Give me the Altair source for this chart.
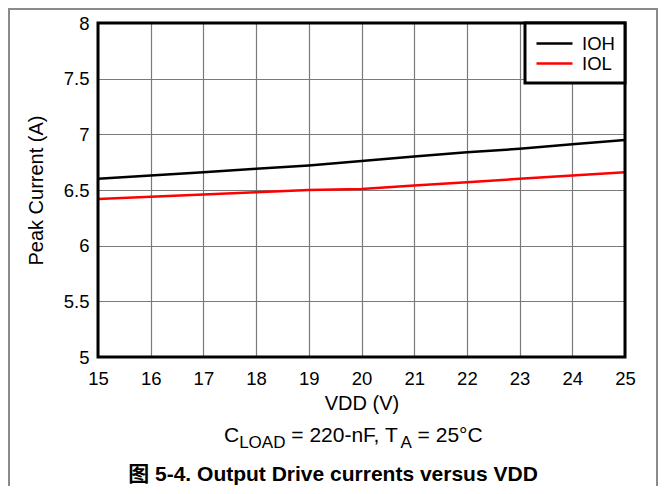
import altair as alt
import pandas as pd

vdd = [15, 16, 17, 18, 19, 20, 21, 22, 23, 24, 25]
ioh = [6.60, 6.63, 6.66, 6.69, 6.72, 6.76, 6.80, 6.84, 6.87, 6.91, 6.95]
iol = [6.42, 6.44, 6.46, 6.48, 6.50, 6.51, 6.54, 6.57, 6.60, 6.63, 6.66]
series_names = ["IOH", "IOL"]
series_colors = ["#000000", "#ff0000"]
y_ticks = [5, 5.5, 6, 6.5, 7, 7.5, 8]

rows = []
for v, a, b in zip(vdd, ioh, iol):
    rows.append({"VDD": v, "Current": a, "Series": "IOH"})
    rows.append({"VDD": v, "Current": b, "Series": "IOL"})
df = pd.DataFrame(rows)
one = pd.DataFrame({"k": [0]})

FONT = "Liberation Sans, Arial, Noto Sans CJK SC"
W, H = 527, 334

# Arial / Liberation Sans advance widths (em) for the condition line
ARIAL = {"C": .722, "L": .556, "O": .778, "A": .667, "D": .722, "=": .584, " ": .278,
         "0": .556, "2": .556, "5": .556, "-": .333, "n": .556, "F": .611, ",": .278,
         "T": .611, "°": .4}

def tw(s, size):
    return sum(ARIAL[c] for c in s) * size

border = alt.Chart(one).mark_rect(filled=False, stroke="#8a8a8a", strokeWidth=2).encode(
    x=alt.value(-89), x2=alt.value(559), y=alt.value(-14), y2=alt.value(540)
)

lines = alt.Chart(df).mark_line(strokeWidth=2.5, clip=True).encode(
    x=alt.X("VDD:Q",
            scale=alt.Scale(domain=[15, 25], nice=False, zero=False),
            axis=alt.Axis(values=vdd, format="d", title="VDD (V)", grid=True,
                          ticks=False, tickSize=0, domain=False, labelPadding=12,
                          labelFlush=False, titlePadding=6)),
    y=alt.Y("Current:Q",
            scale=alt.Scale(domain=[5, 8], nice=False, zero=False),
            axis=alt.Axis(values=y_ticks, format="~g", title="Peak Current (A)", grid=True,
                          ticks=False, tickSize=0, domain=False, labelPadding=9,
                          labelFlush=False, titlePadding=17)),
    color=alt.Color("Series:N",
                    scale=alt.Scale(domain=series_names, range=series_colors),
                    legend=alt.Legend(title=None, orient="top-right", offset=0, padding=10,
                                      strokeColor="#000000", fillColor="#ffffff",
                                      symbolType="M-2,0H2", symbolSize=324,
                                      symbolOffset=9,
                                      symbolStrokeWidth=2.5, labelFont=FONT,
                                      labelFontSize=18.5, labelOffset=17, rowPadding=-3,
                                      labelColor="#000000")),
)

frame = alt.Chart(one).mark_rect(filled=False, stroke="#000000", strokeWidth=3).encode(
    x=alt.value(0), x2=alt.value(W), y=alt.value(0), y2=alt.value(H)
)

def txt(s, x, y, size, bold=False, align="left"):
    return alt.Chart(one).mark_text(
        text=s, font=FONT, fontSize=size, fontWeight="bold" if bold else "normal",
        align=align, baseline="alphabetic", color="#000000"
    ).encode(x=alt.value(x), y=alt.value(y))

# condition line with subscripts, pieces chained by their text widths
BIG, SUB = 21, 17
pieces = [("C", BIG, 0), ("LOAD", SUB, 6), (" = 220-nF, T", BIG, 0), ("A", SUB, 6), (" = 25°C", BIG, 0)]
x0 = 224 - 98
base = 419
cond = []
cx = x0
for s, size, dy in pieces:
    shown = s.lstrip(" ")
    lead = tw(s[: len(s) - len(shown)], size)
    cond.append(txt(shown, cx + lead, base + dy, size))
    cx += tw(s, size)

caption = txt("图 5-4. Output Drive currents versus VDD", 235, 458, 21, bold=True, align="center")

chart = alt.layer(border, lines, frame, *cond, caption).properties(
    width=W, height=H,
    autosize=alt.AutoSizeParams(type="none"),
    padding={"left": 90, "top": 15, "right": 33, "bottom": 129},
).configure_view(stroke=None).configure_axis(
    labelFont=FONT, labelFontSize=18.5, labelColor="#000000",
    titleFont=FONT, titleFontSize=20, titleFontWeight="normal", titleColor="#000000",
    gridColor="#7a7a7a", gridWidth=1.2, gridOpacity=1,
).configure_legend(strokeWidth=3)

chart.save("out.html", embed_options={"renderer": "svg", "actions": False})
